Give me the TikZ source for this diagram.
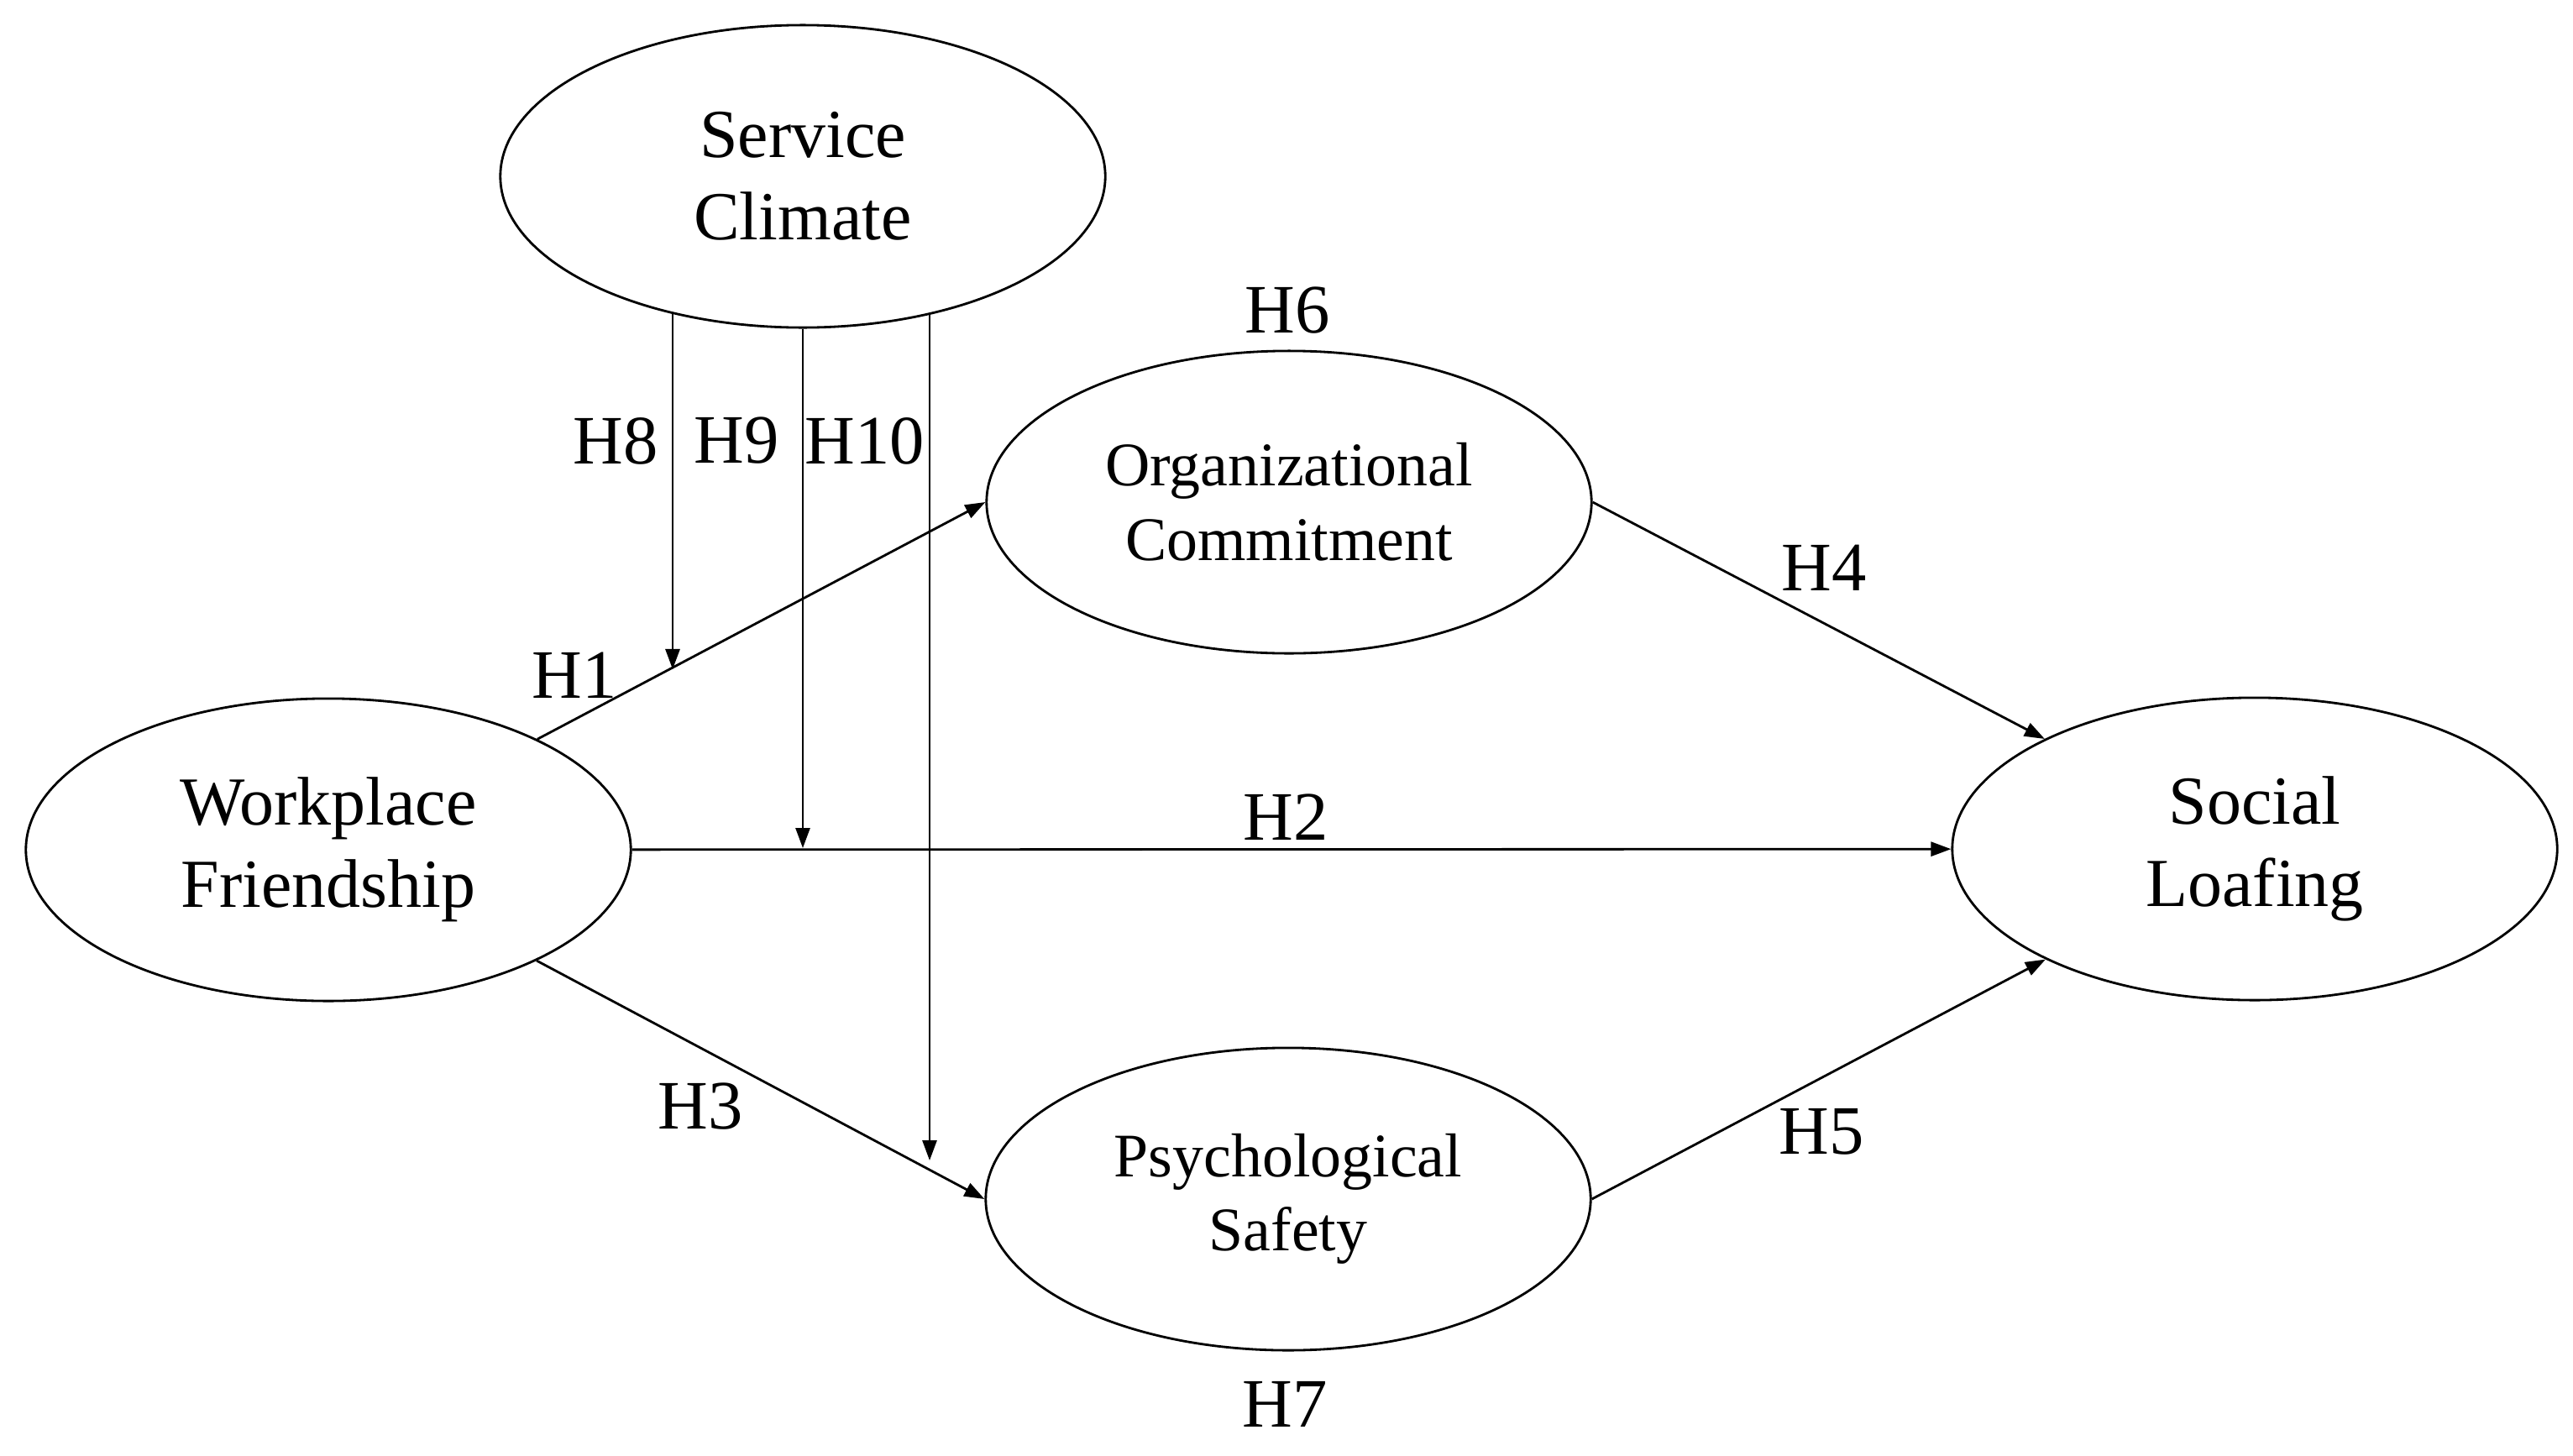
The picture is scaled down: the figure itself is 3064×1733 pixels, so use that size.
\documentclass[tikz,border=0pt]{standalone}
\usepackage{fontspec}
\setmainfont{Liberation Serif}
\usetikzlibrary{shapes.geometric,arrows.meta,calc}
\begin{document}
\begin{tikzpicture}[x=0.01cm,y=-0.01cm,
  latent/.style={draw,ellipse,line width=0.8pt,minimum width=7.2cm,minimum height=3.6cm,inner sep=0pt,align=center,font=\fontsize{23.3}{28}\selectfont},
  latentsm/.style={latent,font=\fontsize{21}{25.2}\selectfont},
  hyp/.style={font=\fontsize{23.5}{28}\selectfont,inner sep=0pt},
  conn/.style={line width=0.8pt,-{Triangle[length=0.24cm,width=0.17cm]}}]
\useasboundingbox (0,0) rectangle (3064,1733);
\node[latent] (SC) at (956,210) {Service\\Climate};
\node[latentsm] (OC) at (1535,598) {Organizational\\Commitment};
\node[latent] (WF) at (391,1012) {Workplace\\Friendship};
\node[latent] (SL) at (2685,1011) {Social\\Loafing};
\node[latentsm] (PS) at (1534,1428) {Psychological\\Safety};

\coordinate (s8) at ($(SC.center)+(-155,162)$);
\coordinate (s9) at (SC.south);
\coordinate (s10) at ($(SC.center)+(151,163)$);
\coordinate (e8) at (801,797);
\coordinate (e9) at (956,1010);
\coordinate (e10) at (1107,1382);

\draw[conn] (WF) -- (OC.west);
\draw[conn] (WF) -- (SL);
\draw[conn] (WF) -- (PS.west);
\draw[conn] (OC.east) -- (SL);
\draw[conn] (PS.east) -- (SL);
\draw[conn] (s8) -- (e8);
\draw[conn] (s9) -- (e9);
\draw[conn] (s10) -- (e10);

\node[hyp] (h1) at (684,804) {H1};
\node[hyp] (h2) at (1531,973) {H2};
\node[hyp] (h3) at (834,1318) {H3};
\node[hyp] (h4) at (2172,676) {H4};
\node[hyp] (h5) at (2169,1348) {H5};
\node[hyp] (h6) at (1533,370) {H6};
\node[hyp] (h7) at (1530,1672) {H7};
\node[hyp] (h8) at (733,525) {H8};
\node[hyp] (h9) at (877,525) {H9};
\node[hyp] (h10) at (1030,525) {H10};
\end{tikzpicture}
\end{document}
